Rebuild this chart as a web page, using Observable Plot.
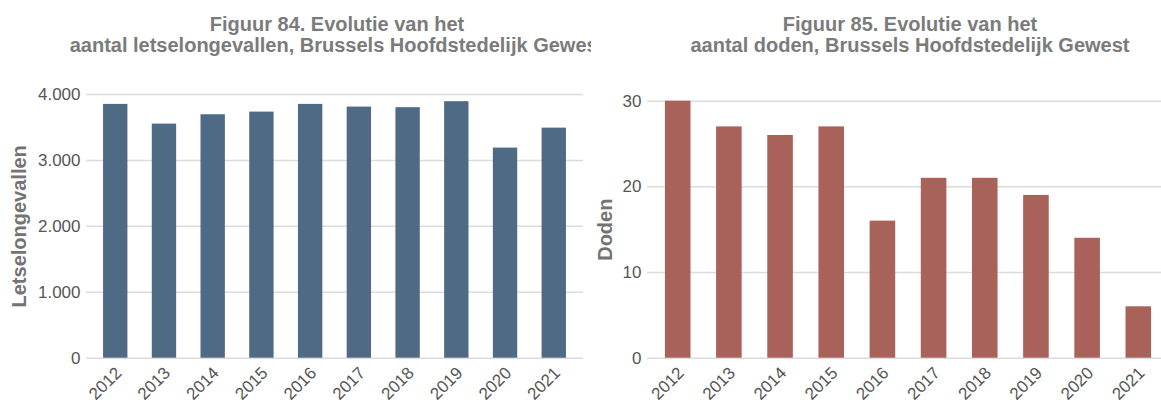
<!DOCTYPE html>
<html>
<head>
<meta charset="utf-8">
<script src="https://cdn.jsdelivr.net/npm/d3@7"></script>
<script src="https://cdn.jsdelivr.net/npm/@observablehq/plot@0.6"></script>
<style>
  html, body { margin: 0; padding: 0; background: #fff; }
  #root { position: relative; width: 1161px; height: 403px; overflow: hidden; font-family: "Liberation Sans", Arial, sans-serif; }
  .panel { position: absolute; top: 0; height: 403px; overflow: hidden; background: #fff; }
  .panel svg { position: absolute; left: 0; top: 0; max-width: none !important; }
  .title { position: absolute; top: 14px; width: 700px; text-align: center; font-size: 20px; font-weight: bold; line-height: 21px; color: #7b7b7b; white-space: nowrap; z-index: 2; }
</style>
</head>
<body>
<div id="root">
  <div class="panel" id="left" style="left:0;width:591px;">
    <div class="title" style="left:-13px;">Figuur 84. Evolutie van het<br>aantal letselongevallen, Brussels Hoofdstedelijk Gewest</div>
  </div>
  <div class="panel" id="right" style="left:591px;width:570px;">
    <div class="title" style="left:-31px;">Figuur 85. Evolutie van het<br>aantal doden, Brussels Hoofdstedelijk Gewest</div>
  </div>
</div>
<script>
const years = ["2012","2013","2014","2015","2016","2017","2018","2019","2020","2021"];
const letselongevallen = [3850, 3551, 3693, 3733, 3850, 3809, 3800, 3891, 3187, 3490];
const doden = [30, 27, 26, 27, 16, 21, 21, 19, 14, 6];
const letselTicks = [0, 1000, 2000, 3000, 4000];
const dodenTicks = [0, 10, 20, 30];

const nl = d3.formatLocale({decimal: ",", thousands: ".", grouping: [3], currency: ["€", ""]});
const fmt = nl.format(",");

function chart({values, ticks, domain, color, width, marginLeft, marginRight, marginTop, yLabel, labelDx, padOuter}) {
  const data = years.map((y, i) => ({year: y, value: values[i]}));
  return Plot.plot({
    width, height: 403,
    marginLeft, marginRight, marginTop, marginBottom: 45.3,
    style: {fontFamily: "Liberation Sans, Arial, sans-serif", fontSize: "17px", color: "#505050", background: "transparent", maxWidth: "none"},
    x: {domain: years, paddingInner: 0.5, paddingOuter: padOuter, round: false, label: null},
    y: {domain, ticks, label: null},
    marks: [
      Plot.gridY(ticks, {stroke: "#dcdcdc", strokeOpacity: 1, strokeWidth: 1.5}),
      Plot.barY(data, {x: "year", y: "value", fill: color}),
      Plot.axisY(ticks, {tickSize: 0, tickPadding: 6, tickFormat: fmt, label: null, fontSize: 17, fill: "#555"}),
      Plot.axisX({tickSize: 0, tickPadding: 12, tickRotate: -45, label: null, fontSize: 17, fill: "#555", dx: 3}),
      Plot.text([yLabel], {frameAnchor: "left", text: d => d, rotate: -90, dx: labelDx, fontSize: 20, fontWeight: "bold", fill: "#737373", textAnchor: "middle", lineAnchor: "middle"})
    ]
  });
}

document.getElementById("left").appendChild(chart({
  values: letselongevallen, ticks: letselTicks, domain: [0, 4000], color: "#4f6a85",
  width: 591, marginLeft: 86, marginRight: 8, marginTop: 94, yLabel: "Letselongevallen", labelDx: -67, padOuter: 0.35
}));
document.getElementById("right").appendChild(chart({
  values: doden, ticks: dodenTicks, domain: [0, 30], color: "#a8625a",
  width: 578, marginLeft: 56, marginRight: 0, marginTop: 100.7, yLabel: "Doden", labelDx: -42, padOuter: 0.35
}));
</script>
</body>
</html>
